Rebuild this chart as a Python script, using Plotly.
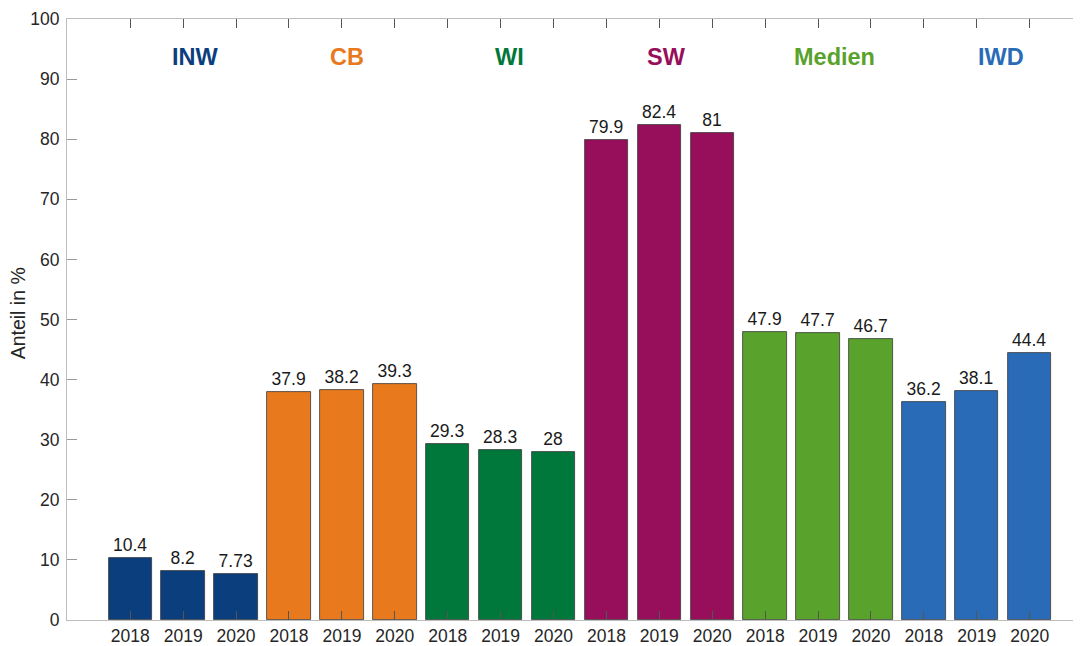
import plotly.graph_objects as go

groups = ["INW", "CB", "WI", "SW", "Medien", "IWD"]
years = ["2018", "2019", "2020"]
values = {
    "INW": [10.4, 8.2, 7.73],
    "CB": [37.9, 38.2, 39.3],
    "WI": [29.3, 28.3, 28],
    "SW": [79.9, 82.4, 81],
    "Medien": [47.9, 47.7, 46.7],
    "IWD": [36.2, 38.1, 44.4],
}
colors = {
    "INW": "#0b3e7d",
    "CB": "#e8791d",
    "WI": "#00773b",
    "SW": "#970f5a",
    "Medien": "#59a22c",
    "IWD": "#2a6bb8",
}
# horizontal position of group titles (in bar-index units)
title_x = [2.23, 5.09, 8.17, 11.13, 14.32, 17.45]

FONT = "Liberation Sans, Arial, sans-serif"

fig = go.Figure()
tickvals, ticktext = [], []
for gi, g in enumerate(groups):
    xs = [gi * 3 + j + 1 for j in range(3)]
    tickvals += xs
    ticktext += years
    fig.add_trace(go.Bar(
        x=xs, y=values[g], width=0.82,
        marker=dict(color=colors[g], line=dict(color="#3a3a3a", width=0.8)),
        text=[f"{v:g}" for v in values[g]], textposition="outside",
        textfont=dict(size=17.5, color="#1a1a1a", family=FONT),
        cliponaxis=False, showlegend=False,
    ))
    fig.add_annotation(x=title_x[gi], y=93.6, xref="x", yref="y",
                       text=f"<b>{g}</b>", showarrow=False,
                       font=dict(size=23.5, color=colors[g], family=FONT))

fig.add_annotation(x=-0.0475, y=0.51, xref="paper", yref="paper",
                   text="Anteil in %", textangle=-90, showarrow=False,
                   xanchor="center", yanchor="middle",
                   font=dict(size=19.5, color="#262626", family=FONT))

# page body has an 8px default margin: size the figure to fill the rest
fig.update_layout(
    width=1073, height=638,
    margin=dict(l=59, r=0, t=11, b=26),
    plot_bgcolor="white", paper_bgcolor="white",
    bargap=0,
    font=dict(family=FONT, size=17, color="#262626"),
)
fig.update_xaxes(
    range=[-0.196, 18.97], tickvals=tickvals, ticktext=ticktext,
    showline=True, linecolor="#bdbdbd", linewidth=1, mirror="ticks",
    ticks="inside", ticklen=9, tickcolor="#555555", tickwidth=1,
    showgrid=False, zeroline=False,
    tickfont=dict(size=17.5, color="#262626"),
)
fig.update_yaxes(
    range=[0, 100], tickvals=list(range(0, 101, 10)),
    showline=True, linecolor="#bdbdbd", linewidth=1,
    ticks="inside", ticklen=10, tickcolor="#9a9a9a", tickwidth=1,
    showgrid=False, zeroline=False, ticklabelstandoff=3,
    tickfont=dict(size=17.5, color="#262626"),
)

fig.write_html("out.html")
